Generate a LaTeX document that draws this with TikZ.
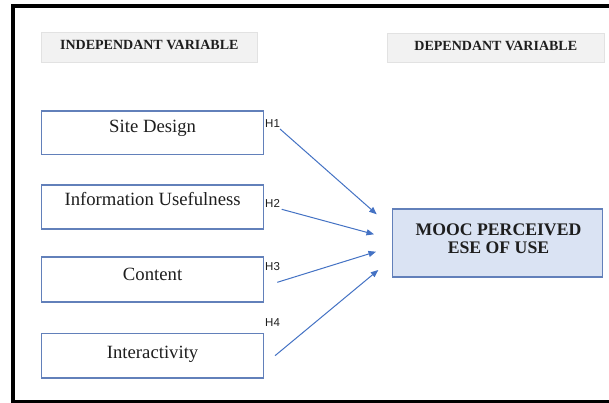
\documentclass[tikz,border=0pt]{standalone}
\usepackage{fontspec}
\setmainfont{Liberation Serif}
\newfontfamily\hypsans{Liberation Sans}
\usetikzlibrary{arrows.meta}

\definecolor{boxedge}{RGB}{98,128,186}
\definecolor{linkblue}{RGB}{68,114,196}
\definecolor{dvfill}{RGB}{218,227,243}
\definecolor{hdrfill}{RGB}{242,242,242}
\definecolor{hdredge}{RGB}{226,226,226}
\definecolor{ink}{RGB}{30,30,30}

\begin{document}
\begin{tikzpicture}[x=1pt,y=-1pt,
  varbox/.style={draw=boxedge, line width=1.2pt, fill=white, inner sep=0pt,
    minimum width=221.8pt, anchor=base, text=ink,
    font=\fontsize{18.7}{22}\selectfont},
  hdrbox/.style={draw=hdredge, line width=0.6pt, fill=hdrfill, inner sep=0pt,
    anchor=base, text=ink, font=\fontsize{14}{16}\selectfont\bfseries},
  dvbox/.style={draw=boxedge, line width=1.2pt, fill=dvfill, inner sep=0pt,
    minimum width=210pt, minimum height=68pt},
  dvtext/.style={align=center, inner sep=0pt, text=ink,
    font=\fontsize{17.7}{18}\selectfont\bfseries},
  hyp/.style={font=\hypsans\fontsize{11.5}{13}\selectfont, text=ink,
    inner sep=0pt, anchor=west},
  link/.style={draw=linkblue, line width=1pt,
    -{Triangle[length=7.5pt,width=6pt]}}
]
% page area and white background
\useasboundingbox (0,0) rectangle (609,403);
\clip (0,0) rectangle (609,403);
\fill[white] (0,0) rectangle (609,403);

% outer frame
\draw[line width=4pt, black] (13,6) rectangle (620,401.5);

% column headings
\node[hdrbox, minimum width=216.5pt, text height=17.5pt, text depth=12.5pt]
  (ivhead) at (149.3,49.5) {INDEPENDANT VARIABLE};
\node[hdrbox, minimum width=216.4pt, text height=17.5pt, text depth=11.5pt]
  (dvhead) at (495.8,50.5) {DEPENDANT VARIABLE};

% independent variables
\node[varbox, text height=22pt, text depth=21.5pt]
  (site) at (152.6,133) {Site Design};
\node[varbox, text height=20pt, text depth=24pt]
  (info) at (152.6,205) {Information Usefulness};
\node[varbox, text height=23.7pt, text depth=21.3pt]
  (content) at (152.6,280.7) {Content};
\node[varbox, text height=24.5pt, text depth=19.8pt]
  (inter) at (152.6,358.2) {Interactivity};

% dependent variable
\node[dvbox] (mooc) at (497.8,243) {};
\node[dvtext] (mooclabel) at (498.5,238.5) {MOOC PERCEIVED\\ESE OF USE};

% hypothesis links
\coordinate (s1) at (280,129);   \coordinate (e1) at (376.7,214.3);
\coordinate (s2) at (281.7,209.3); \coordinate (e2) at (374,234.3);
\coordinate (s3) at (277.3,282.3); \coordinate (e3) at (376,251.7);
\coordinate (s4) at (275,355.7); \coordinate (e4) at (378.3,270);
\draw[link] (s1) -- (e1);
\draw[link] (s2) -- (e2);
\draw[link] (s3) -- (e3);
\draw[link] (s4) -- (e4);

% hypothesis labels
\node[hyp] (h1) at (265,123.5) {H1};
\node[hyp] (h2) at (265,203.5) {H2};
\node[hyp] (h3) at (265,267) {H3};
\node[hyp] (h4) at (265,323) {H4};
\end{tikzpicture}
\end{document}
